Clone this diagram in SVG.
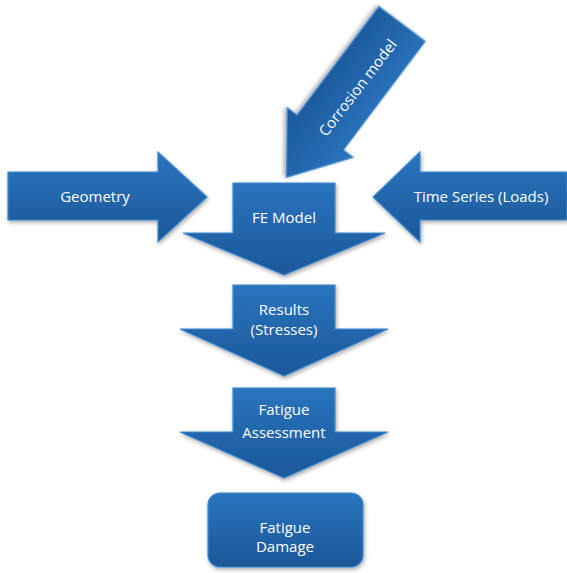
<svg xmlns="http://www.w3.org/2000/svg" width="567" height="573" viewBox="0 0 567 573">
<defs>
<linearGradient id="g" x1="0" y1="0" x2="0" y2="1">
<stop offset="0" stop-color="#2a74be"/>
<stop offset="1" stop-color="#1a5799"/>
</linearGradient>
<filter id="sh" x="-10%" y="-10%" width="130%" height="130%">
<feGaussianBlur in="SourceAlpha" stdDeviation="2"/>
<feOffset dx="1" dy="2" result="b"/>
<feComponentTransfer><feFuncA type="linear" slope="0.35"/></feComponentTransfer>
<feMerge><feMergeNode/><feMergeNode in="SourceGraphic"/></feMerge>
</filter>
</defs>
<style>
.s{fill:url(#g);stroke:#3f88cf;stroke-width:1.2;filter:url(#sh);stroke-linejoin:miter}
.t{font-family:"Open Sans","Liberation Sans",sans-serif;font-size:15px;fill:#ffffff;text-anchor:middle}
</style>
<g id="geometry">
<path class="s" d="M8,172 H158 V152 L207,197 L158,242 V220 H8 Z"/>
<text class="t" x="95" y="202">Geometry</text>
</g>
<g id="timeseries">
<path class="s" d="M567,172 H420 V152 L373,197 L420,242 V220 H567 Z"/>
<text class="t" x="481" y="202">Time Series (Loads)</text>
</g>
<g id="corrosion">
<g transform="translate(402,24) rotate(127)">
<path class="s" d="M0,-29 H136 V-41 L192,0 L136,41 V29 H0 Z"/>
</g>
<text class="t" transform="translate(358,88) rotate(-52.5)" x="0" y="5">Corrosion model</text>
</g>
<g id="femodel">
<path class="s" d="M233,183 H335 V233 H385 L284,275 L183,233 H233 Z"/>
<text class="t" x="284" y="223">FE Model</text>
</g>
<g id="results">
<path class="s" d="M233,285 H335 V329 H388 L284,376 L180,329 H233 Z"/>
<text class="t" x="284" y="315">Results</text>
<text class="t" x="284" y="335">(Stresses)</text>
</g>
<g id="assessment">
<path class="s" d="M233,388 H335 V432 H388 L284,478 L180,432 H233 Z"/>
<text class="t" x="284" y="415">Fatigue</text>
<text class="t" x="284" y="438">Assessment</text>
</g>
<g id="damage">
<rect class="s" x="208" y="493" width="155" height="74" rx="12"/>
<text class="t" x="285" y="533">Fatigue</text>
<text class="t" x="285" y="552">Damage</text>
</g>
<g id="connectors"></g>
</svg>
